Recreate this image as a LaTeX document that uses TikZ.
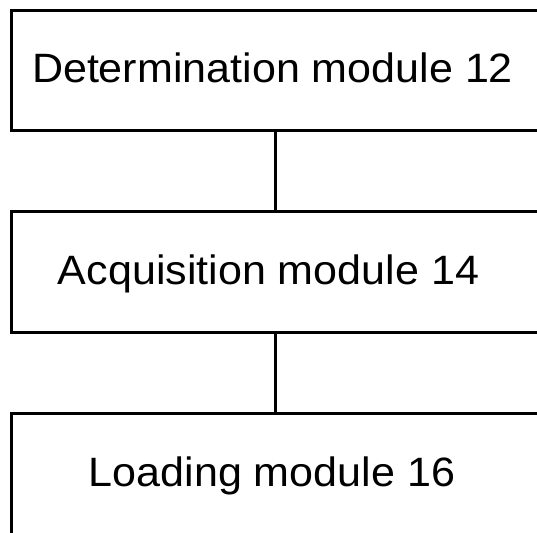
\documentclass[tikz,border=0pt]{standalone}
\usepackage{fontspec}
\usepackage{graphicx}
\setmainfont{Liberation Sans}
\begin{document}
\begin{tikzpicture}[x=1pt,y=1pt,
  modbox/.style={draw=black, line width=3pt, minimum width=529pt, inner sep=0pt},
  modtext/.style={anchor=base, inner sep=0pt, font=\fontsize{41}{47}\selectfont},
  link/.style={draw=black, line width=3pt}]
\useasboundingbox (0,0) rectangle (537,532);
\clip (0,0) rectangle (537,532);
\node[modbox, minimum height=120pt] (m12) at (275.5,461) {};
\node[modbox, minimum height=121pt] (m14) at (275.5,259.5) {};
\node[modbox, minimum height=121pt] (m16) at (275.5,57.5) {};
\node[modtext] (t12) at (272.5,449) {\scalebox{1.05}[1]{Determination module 12}};
\node[modtext] (t14) at (268.5,247) {\scalebox{1.05}[1]{Acquisition module 14}};
\node[modtext] (t16) at (272,46) {\scalebox{1.05}[1]{Loading module 16}};
\draw[link] (m12.south) -- (m14.north);
\draw[link] (m14.south) -- (m16.north);
\end{tikzpicture}
\end{document}
